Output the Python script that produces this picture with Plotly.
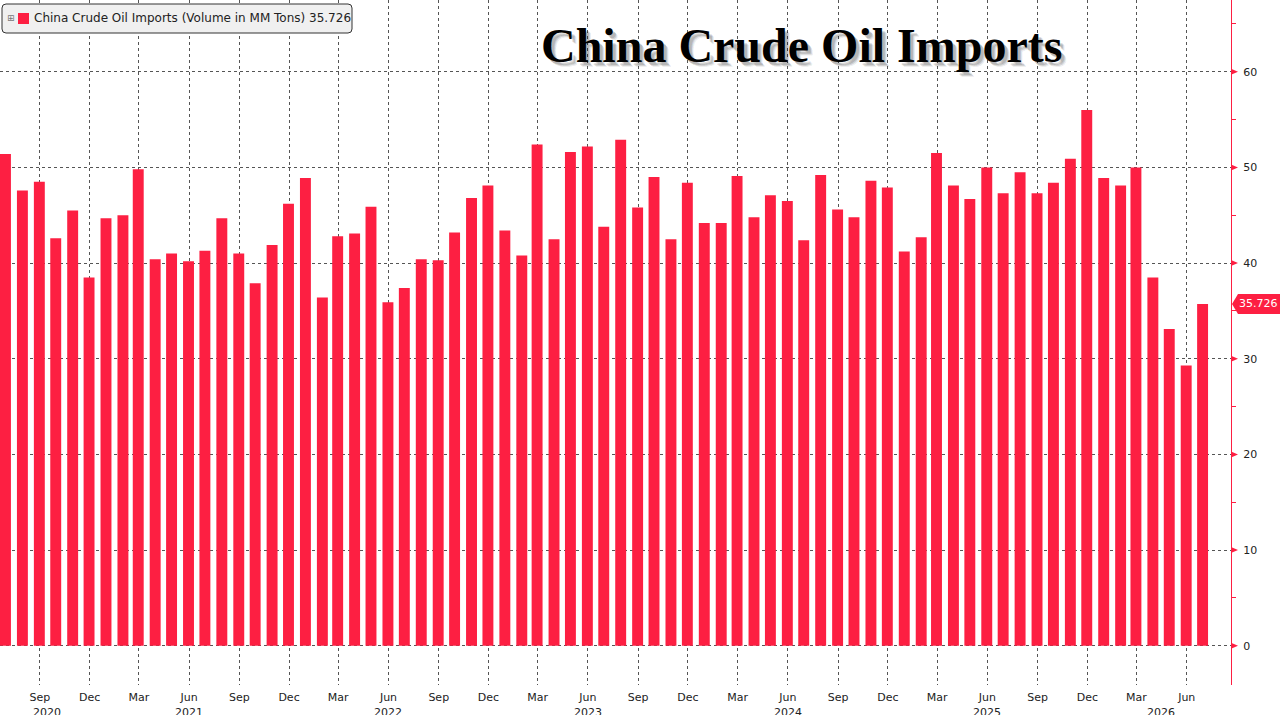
import pandas as pd
import plotly.graph_objects as go

# monthly crude oil imports, million tons (Jun 2020 .. Jun 2026)
months = pd.date_range("2020-06-30", periods=73, freq="ME")
imports_mm_tons = [
    51.4, 47.6, 48.5, 42.6, 45.5, 38.5, 44.7, 45.0, 49.8, 40.4,
    41.0, 40.2, 41.3, 44.7, 41.0, 37.9, 41.9, 46.2, 48.9, 36.4,
    42.8, 43.1, 45.9, 35.9, 37.4, 40.4, 40.3, 43.2, 46.8, 48.1,
    43.4, 40.8, 52.4, 42.5, 51.6, 52.2, 43.8, 52.9,
    45.8, 49.0, 42.5, 48.4, 44.2, 44.2, 49.1, 44.8, 47.1, 46.5,
    42.4, 49.2, 45.6, 44.8, 48.6, 47.9, 41.2, 42.7,
    51.5, 48.1, 46.7, 50.0, 47.3, 49.5, 47.3, 48.4, 50.9, 56.0,
    48.9, 48.1, 50.0, 38.5, 33.1, 29.3,
    35.726,
]
last_value = imports_mm_tons[-1]
series_name = "China Crude Oil Imports (Volume in MM Tons)"

# axis ticks
tick_dates = pd.date_range("2020-09-01", "2026-06-01", freq="3MS")
tick_labels = [d.strftime("%b") for d in tick_dates]
year_labels = ["2020", "2021", "2022", "2023", "2024", "2025", "2026"]
year_label_dates = ["2020-09-14", "2021-06-01", "2022-06-01", "2023-06-01",
                    "2024-06-01", "2025-06-01", "2026-04-15"]
y_ticks = [0, 10, 20, 30, 40, 50, 60]
y_minor = [5, 15, 25, 35, 45, 55, 65]

RED = "#fd1f42"
FONT = "DejaVu Sans"

fig = go.Figure()

fig.add_trace(go.Bar(
    x=months,
    y=imports_mm_tons,
    name=f"{series_name} {last_value}",
    marker=dict(color=RED, line=dict(width=0)),
    width=20 * 86400000,
    showlegend=False,
))

# title with a soft drop shadow
title = "<b>China Crude Oil Imports</b>"
for dx, dy, alpha in [(5, -5, 0.08), (4, -4, 0.12), (3, -3, 0.14)]:
    fig.add_annotation(text=title, xref="paper", yref="paper", x=0.6507, y=0.9752,
                       xshift=dx, yshift=dy, showarrow=False,
                       font=dict(family="Liberation Serif", size=48,
                                 color=f"rgba(0,0,0,{alpha})"))
fig.add_annotation(text=title, xref="paper", yref="paper", x=0.6507, y=0.9752,
                   showarrow=False,
                   font=dict(family="Liberation Serif", size=48, color="#000"))

# legend box (drawn by hand, pixel offsets from the top-left of the plot)
fig.add_shape(type="path", xref="paper", xsizemode="pixel", xanchor=0,
              yref="paper", ysizemode="pixel", yanchor=1,
              path=("M 6 -4 L 348 -4 Q 352 -4 352 -8 L 352 -29 Q 352 -33 348 -33 "
                    "L 6 -33 Q 2 -33 2 -29 L 2 -8 Q 2 -4 6 -4 Z"),
              fillcolor="#f0f0f0", line=dict(color="#333", width=1), layer="above")
fig.add_shape(type="rect", xref="paper", xsizemode="pixel", xanchor=0,
              yref="paper", ysizemode="pixel", yanchor=1,
              x0=18, x1=29, y0=-13, y1=-24,
              fillcolor=RED, line=dict(width=0), layer="above")
fig.add_annotation(text="⊞", xref="paper", yref="paper", x=0, y=1,
                   xanchor="left", yanchor="middle", xshift=5, yshift=-18,
                   showarrow=False, font=dict(family=FONT, size=9, color="#777"))
fig.add_annotation(text=f"{series_name} {last_value}", xref="paper", yref="paper",
                   x=0, y=1, xanchor="left", yanchor="middle", xshift=32, yshift=-18,
                   showarrow=False, font=dict(family=FONT, size=12, color="#222"))

# year labels under the month ticks
for yr, d in zip(year_labels, year_label_dates):
    fig.add_annotation(text=yr, x=d, xref="x", y=0, yref="paper", yanchor="top",
                       yshift=-19, showarrow=False,
                       font=dict(family=FONT, size=11, color="#222"))

# arrow heads on the right axis
for v in y_ticks:
    fig.add_shape(type="path", xref="paper", xsizemode="pixel", xanchor=1,
                  yref="y", ysizemode="pixel", yanchor=v,
                  path="M 0 3 L 7 0 L 0 -3 Z", fillcolor=RED, line=dict(width=0))

# last value tag
fig.add_shape(type="path", xref="paper", xsizemode="pixel", xanchor=1,
              yref="y", ysizemode="pixel", yanchor=last_value,
              path="M 1 0 L 7 10 L 49 10 L 49 -10 L 7 -10 Z",
              fillcolor=RED, line=dict(width=0), layer="above")
fig.add_annotation(text=f"{last_value}", xref="paper", x=1, xanchor="left", xshift=6,
                   y=last_value, yref="y", showarrow=False,
                   font=dict(family=FONT, size=11, color="white"))

fig.update_layout(
    width=1280,
    height=715,
    margin=dict(l=0, r=49, t=0, b=30),
    paper_bgcolor="white",
    plot_bgcolor="white",
    font=dict(family=FONT, size=11, color="#222"),
    showlegend=False,
    xaxis=dict(
        type="date",
        range=["2020-06-20", "2026-08-21"],
        tickvals=tick_dates,
        ticktext=tick_labels,
        ticks="",
        showgrid=True,
        gridcolor="#555",
        griddash="dot",
        gridwidth=1,
        showline=False,
        zeroline=False,
        ticklabelstandoff=4,
        tickfont=dict(family=FONT, size=11, color="#222"),
    ),
    yaxis=dict(
        side="right",
        range=[-4.1, 67.5],
        tickvals=y_ticks,
        ticks="",
        showgrid=True,
        gridcolor="#555",
        griddash="dot",
        gridwidth=1,
        showline=True,
        linecolor=RED,
        linewidth=1,
        zeroline=False,
        ticklabelstandoff=9,
        tickfont=dict(family=FONT, size=11, color="#222"),
        minor=dict(tickvals=y_minor, ticks="outside", ticklen=4,
                   tickcolor=RED, showgrid=False),
    ),
)

fig.write_html(
    "out.html",
    config={"displayModeBar": False},
    post_script="document.body.style.margin='0';document.body.style.overflow='hidden';",
)
